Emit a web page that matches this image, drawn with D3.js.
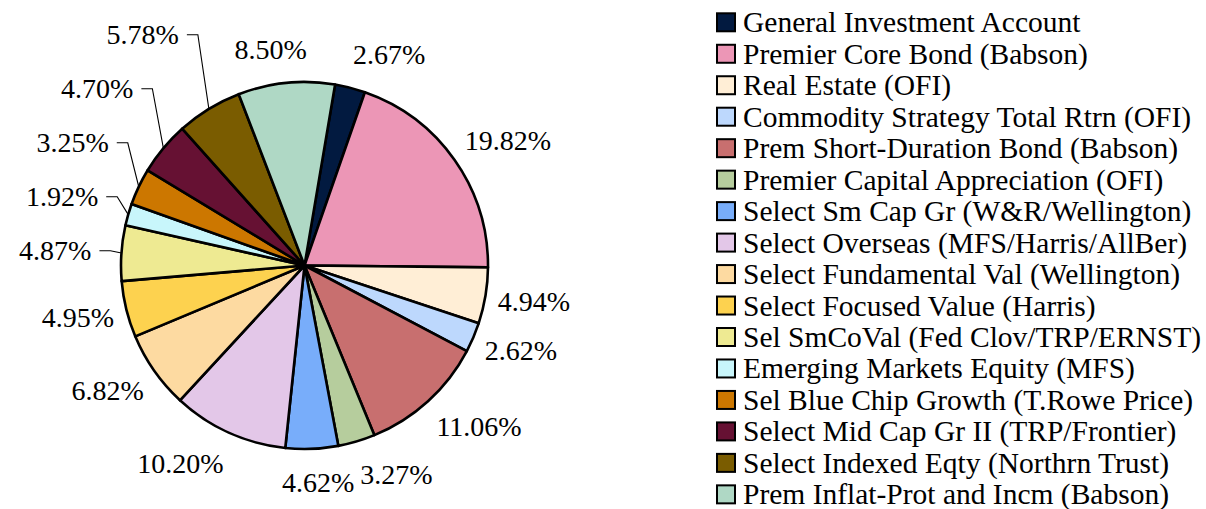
<!DOCTYPE html>
<html>
<head>
<meta charset="utf-8">
<script src="https://cdn.jsdelivr.net/npm/d3@7"></script>
</head>
<body style="margin:0">
<script>
// fund names, shares (%) and slice colours, in drawing order
var funds = [
    "General Investment Account",
    "Premier Core Bond (Babson)",
    "Real Estate (OFI)",
    "Commodity Strategy Total Rtrn (OFI)",
    "Prem Short-Duration Bond (Babson)",
    "Premier Capital Appreciation (OFI)",
    "Select Sm Cap Gr (W&R/Wellington)",
    "Select Overseas (MFS/Harris/AllBer)",
    "Select Fundamental Val (Wellington)",
    "Select Focused Value (Harris)",
    "Sel SmCoVal (Fed Clov/TRP/ERNST)",
    "Emerging Markets Equity (MFS)",
    "Sel Blue Chip Growth (T.Rowe Price)",
    "Select Mid Cap Gr II (TRP/Frontier)",
    "Select Indexed Eqty (Northrn Trust)",
    "Prem Inflat-Prot and Incm (Babson)"
];
var shares = [2.67, 19.82, 4.94, 2.62, 11.06, 3.27, 4.62, 10.20, 6.82, 4.95, 4.87, 1.92, 3.25, 4.70, 5.78, 8.50];
var colors = [
    "#021a40", "#ec96b6", "#ffeed6", "#bdd8fd", "#c86f6f", "#b6cd9d",
    "#78adfa", "#e3c7e8", "#fddaa1", "#fdd24f", "#eeea92", "#c8f6fb",
    "#cc7700", "#661133", "#7a5c00", "#afd8c5"
];

var fontFam = "'Liberation Serif', monospace";

document.fonts.load("28px 'Liberation Serif'").then(draw, draw);

function draw() {
    var width = 1206, height = 509;
    var cx = 304.5, cy = 265.5, radius = 183.5;
    var startDeg = 9.6;

    var svg = d3.select("body").append("svg")
        .attr("width", width)
        .attr("height", height);

    var pie = d3.pie()
        .sort(null)
        .value(d => d)
        .startAngle(startDeg * Math.PI / 180)
        .endAngle(startDeg * Math.PI / 180 + 2 * Math.PI);

    var arcs = pie(shares);
    var arc = d3.arc().innerRadius(0).outerRadius(radius);

    var g = svg.append("g").attr("transform", `translate(${cx},${cy})`);

    g.selectAll("path.slice")
        .data(arcs)
        .enter()
        .append("path")
        .attr("class", "slice")
        .attr("d", arc)
        .attr("fill", (d, i) => colors[i])
        .attr("stroke", "#000")
        .attr("stroke-width", 2.6)
        .attr("stroke-linejoin", "round");

    // labels sit outside the end of each slice; crowded ones get stacked with a leader line
    var labelR = 196, halfH = 21.5, stackGap = 54;
    var fmt = d => d.toFixed(2) + "%";

    var labelG = svg.append("g");
    var labels = arcs.map((d, i) => {
        var a = (d.startAngle + d.endAngle) / 2;
        var s = Math.sin(a), c = Math.cos(a);
        var t = labelG.append("text")
            .style("font-family", fontFam)
            .attr("font-size", 28)
            .attr("text-anchor", "middle")
            .text(fmt(d.value));
        var w = t.node().getComputedTextLength();
        var kx = Math.max(-1, Math.min(1, s / 0.25));
        return {
            s: s, c: c, node: t, w: w,
            x: cx + labelR * s + kx * w / 2,
            y: cy - labelR * c - c * halfH,
            callout: false
        };
    });

    // left side: walk bottom to top and keep a minimum vertical gap
    var left = labels.filter(l => l.s < -0.3).sort((p, q) => q.y - p.y);
    var runs = [], run = [left[0]];
    for (var k = 1; k < left.length; k++) {
        if (run[run.length - 1].y - left[k].y < stackGap) run.push(left[k]);
        else { runs.push(run); run = [left[k]]; }
    }
    runs.push(run);
    runs.forEach(r => {
        if (r.length < 2) return;
        var ys = [r[0].y];
        for (var k = 1; k < r.length; k++) ys.push(Math.min(r[k].y, ys[k - 1] - stackGap));
        var moved = d3.max(r, (l, k) => l.y - ys[k]);
        if (moved < 10) return;
        r.forEach((l, k) => {
            l.y = ys[k];
            l.callout = true;
            l.x = cx + radius * l.s - 30 - l.w / 2;
        });
    });

    labels.forEach(l => {
        l.node.attr("x", l.x).attr("y", l.y + 9.5);
        if (l.callout) {
            var x0 = l.x + l.w / 2 + 8;
            var ex = cx + radius * l.s, ey = cy - radius * l.c;
            labelG.append("polyline")
                .attr("points", [[x0, l.y], [x0 + 11, l.y], [ex, ey]].map(p => p.join(",")).join(" "))
                .attr("fill", "none")
                .attr("stroke", "#000")
                .attr("stroke-width", 1.1);
        }
    });

    // legend
    var legendX = 716, legendY = 12.3, rowH = 31.47, box = 20;
    var rows = svg.append("g").selectAll("g.row")
        .data(funds)
        .enter()
        .append("g")
        .attr("class", "row")
        .attr("transform", (d, i) => `translate(${legendX},${legendY + i * rowH})`);

    rows.append("rect")
        .attr("x", 1).attr("y", 1)
        .attr("width", box - 2).attr("height", box - 2)
        .attr("fill", (d, i) => colors[i])
        .attr("stroke", "#000")
        .attr("stroke-width", 2);

    rows.append("text")
        .attr("x", 27)
        .attr("y", box)
        .style("font-family", fontFam)
        .attr("font-size", 29.5)
        .text(d => d);
}
</script>
</body>
</html>
